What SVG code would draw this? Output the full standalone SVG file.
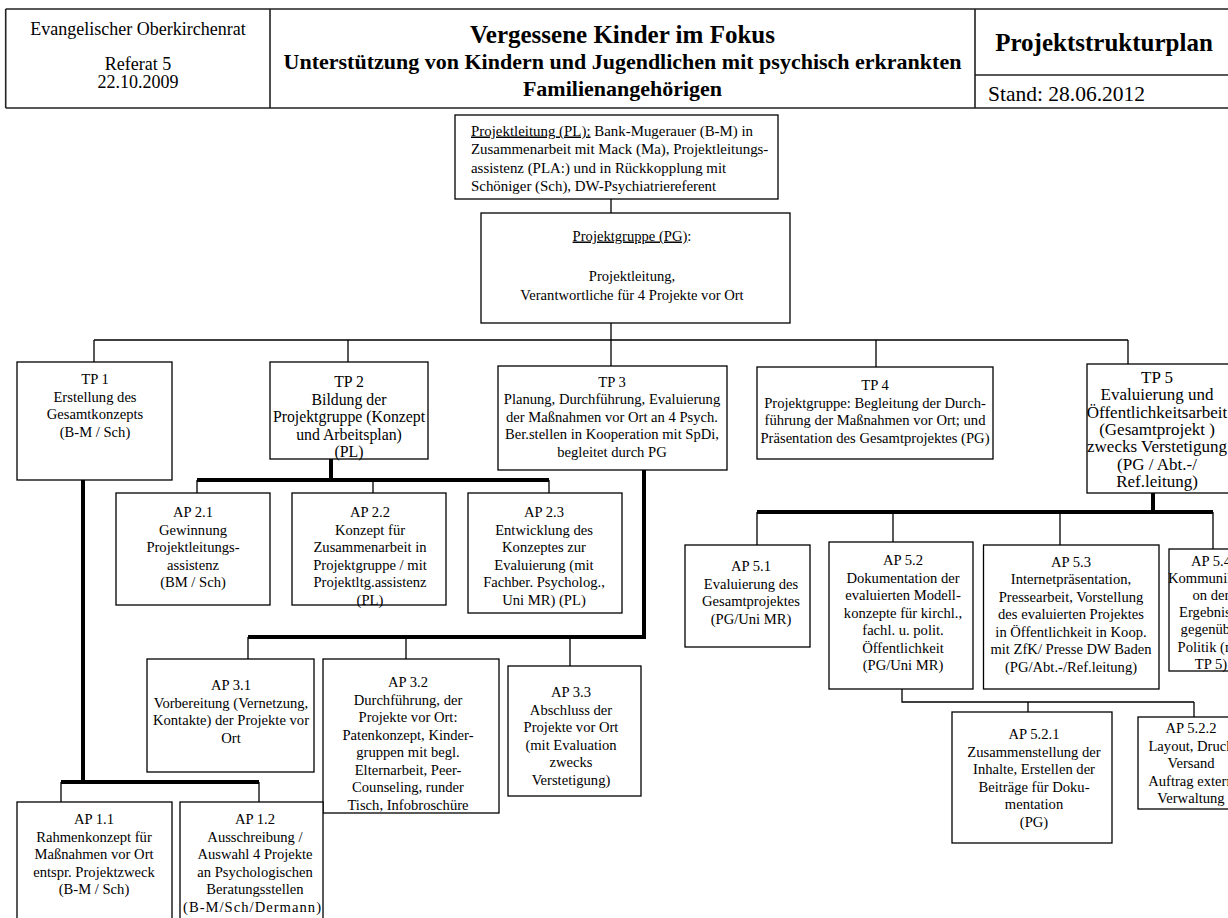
<svg xmlns="http://www.w3.org/2000/svg" width="1228" height="918" viewBox="0 0 1228 918">
<style>
.bg{fill:#fff}
.hb{fill:none;stroke:#222;stroke-width:1.6}
.box{fill:#fff;stroke:#000;stroke-width:1.3}
.t{font-family:"Liberation Serif","Times New Roman",serif;font-size:14.6px;fill:#000;text-anchor:middle}
.tl{font-family:"Liberation Serif","Times New Roman",serif;font-size:14.9px;fill:#000}
.hl{font-family:"Liberation Serif","Times New Roman",serif;font-size:18px;fill:#000;text-anchor:middle}
.hb1{font-family:"Liberation Serif","Times New Roman",serif;font-size:25px;font-weight:bold;fill:#000;text-anchor:middle}
.hb2{font-family:"Liberation Serif","Times New Roman",serif;font-size:22px;font-weight:bold;fill:#000;text-anchor:middle}
.hs{font-family:"Liberation Serif","Times New Roman",serif;font-size:21.5px;fill:#000}
.thin{fill:none;stroke:#000;stroke-width:1.3}
.thick{fill:none;stroke:#000;stroke-width:4}
</style>
<rect class="bg" x="0" y="0" width="1228" height="918"/>

<g id="header">
<path class="hb" d="M5.7,9 H1240 M5.7,108 H1240 M5.7,9 V108 M270,9 V108 M975,9 V108 M975,75 H1240"/>
<text class="hl" x="138" y="35">Evangelischer Oberkirchenrat</text>
<text class="hl" x="138" y="70">Referat 5</text>
<text class="hl" x="138" y="88">22.10.2009</text>
<text class="hb1" x="622.5" y="42.5">Vergessene Kinder im Fokus</text>
<text class="hb2" x="622.5" y="69">Unterstützung von Kindern und Jugendlichen mit psychisch erkrankten</text>
<text class="hb2" x="622.5" y="96">Familienangehörigen</text>
<text class="hb1" x="1104" y="51">Projektstrukturplan</text>
<text class="hs" x="988" y="101">Stand: 28.06.2012</text>
</g>

<g id="connectors">
<path class="thin" d="M611,199 V213 M611,323 V340 M94,340 H1128 M94,340 V362 M348,340 V362 M611,340 V366 M876,340 V367 M1128,340 V364"/>
<path class="thick" d="M83,480 V782 M61,782 H259 M331,459 V480 M197,480 H549 M644,470 V637 H248 M1153,493 V512 M757,512 H1213"/>
<path class="thin" d="M61,782 V802 M259,782 V802 M197,480 V493 M373,480 V493 M549,480 V493 M248,637 V659 M406,637 V659 M570,637 V666 M757,512 V545 M893,512 V542 M1060,512 V545 M1213,512 V549 M902,689 V702 H1194 M1028,702 V712 M1194,702 V717"/>
</g>

<g id="pl">
<rect class="box" x="455" y="115" width="323" height="84"/>
<text class="tl" x="471" y="135.5"><tspan text-decoration="underline">Projektleitung (PL):</tspan> Bank-Mugerauer (B-M) in</text>
<text class="tl" x="471" y="154">Zusammenarbeit mit Mack (Ma), Projektleitungs-</text>
<text class="tl" x="471" y="172.5">assistenz (PLA:) und in Rückkopplung mit</text>
<text class="tl" x="471" y="191">Schöniger (Sch), DW-Psychiatriereferent</text>
</g>

<g id="pg">
<rect class="box" x="481" y="213" width="309" height="110"/>
<text class="t" x="632" y="240.5"><tspan text-decoration="underline">Projektgruppe (PG)</tspan>:</text>
<text class="t" x="632" y="281">Projektleitung,</text>
<text class="t" x="632" y="300">Verantwortliche für 4 Projekte vor Ort</text>
</g>

<g id="tp1">
<rect class="box" x="17" y="362" width="155" height="118"/>
<text class="t" x="95" y="384">TP 1</text>
<text class="t" x="95" y="401.5">Erstellung des</text>
<text class="t" x="95" y="419">Gesamtkonzepts</text>
<text class="t" x="95" y="436.5">(B-M / Sch)</text>
</g>

<g id="tp2">
<rect class="box" x="270" y="362" width="158" height="97"/>
<text class="t" style="font-size:15.8px" x="349" y="387">TP 2</text>
<text class="t" style="font-size:15.8px" x="349" y="404.5">Bildung der</text>
<text class="t" style="font-size:15.8px" x="349" y="422">Projektgruppe (Konzept</text>
<text class="t" style="font-size:15.8px" x="349" y="439.5">und Arbeitsplan)</text>
<text class="t" style="font-size:15.8px" x="349" y="457">(PL)</text>
</g>

<g id="tp3">
<rect class="box" x="498" y="366" width="229" height="104"/>
<text class="t" x="612" y="386.5">TP 3</text>
<text class="t" x="612" y="404">Planung, Durchführung, Evaluierung</text>
<text class="t" x="612" y="421.5">der Maßnahmen vor Ort an 4 Psych.</text>
<text class="t" x="612" y="439">Ber.stellen in Kooperation mit SpDi,</text>
<text class="t" x="612" y="456.5">begleitet durch PG</text>
</g>

<g id="tp4">
<rect class="box" x="757" y="367" width="236" height="92"/>
<text class="t" x="875" y="390">TP 4</text>
<text class="t" x="875" y="407.5">Projektgruppe: Begleitung der Durch-</text>
<text class="t" x="875" y="425">führung der Maßnahmen vor Ort; und</text>
<text class="t" x="875" y="442.5">Präsentation des Gesamtprojektes (PG)</text>
</g>

<g id="tp5">
<rect class="box" x="1087" y="364" width="150" height="129"/>
<text class="t" style="font-size:17px" x="1157" y="383">TP 5</text>
<text class="t" style="font-size:17px" x="1157" y="400.3">Evaluierung und</text>
<text class="t" style="font-size:17px" x="1157" y="417.6">Öffentlichkeitsarbeit</text>
<text class="t" style="font-size:17px" x="1157" y="434.9">(Gesamtprojekt )</text>
<text class="t" style="font-size:17px" x="1157" y="452.2">zwecks Verstetigung</text>
<text class="t" style="font-size:17px" x="1157" y="469.5">(PG / Abt.-/</text>
<text class="t" style="font-size:17px" x="1157" y="486.8">Ref.leitung)</text>
</g>

<g id="ap21">
<rect class="box" x="116" y="493" width="154" height="112"/>
<text class="t" x="193" y="517">AP 2.1</text>
<text class="t" x="193" y="534.5">Gewinnung</text>
<text class="t" x="193" y="552">Projektleitungs-</text>
<text class="t" x="193" y="569.5">assistenz</text>
<text class="t" x="193" y="587">(BM / Sch)</text>
</g>

<g id="ap22">
<rect class="box" x="292" y="493" width="154" height="112"/>
<text class="t" x="370" y="517">AP 2.2</text>
<text class="t" x="370" y="534.5">Konzept für</text>
<text class="t" x="370" y="552">Zusammenarbeit in</text>
<text class="t" x="370" y="569.5">Projektgruppe / mit</text>
<text class="t" x="370" y="587">Projektltg.assistenz</text>
<text class="t" x="370" y="604.5">(PL)</text>
</g>

<g id="ap23">
<rect class="box" x="468" y="493" width="154" height="120"/>
<text class="t" x="544" y="517">AP 2.3</text>
<text class="t" x="544" y="534.5">Entwicklung des</text>
<text class="t" x="544" y="552">Konzeptes zur</text>
<text class="t" x="544" y="569.5">Evaluierung (mit</text>
<text class="t" x="544" y="587">Fachber. Psycholog.,</text>
<text class="t" x="544" y="604.5">Uni MR) (PL)</text>
</g>

<g id="ap31">
<rect class="box" x="147" y="659" width="167" height="113"/>
<text class="t" x="231" y="690">AP 3.1</text>
<text class="t" x="231" y="707.5">Vorbereitung (Vernetzung,</text>
<text class="t" x="231" y="725">Kontakte) der Projekte vor</text>
<text class="t" x="231" y="742.5">Ort</text>
</g>

<g id="ap32">
<rect class="box" x="323" y="659" width="176" height="154"/>
<text class="t" x="408" y="687">AP 3.2</text>
<text class="t" x="408" y="704.5">Durchführung, der</text>
<text class="t" x="408" y="722">Projekte vor Ort:</text>
<text class="t" x="408" y="739.5">Patenkonzept, Kinder-</text>
<text class="t" x="408" y="757">gruppen mit begl.</text>
<text class="t" x="408" y="774.5">Elternarbeit, Peer-</text>
<text class="t" x="408" y="792">Counseling, runder</text>
<text class="t" x="408" y="809.5">Tisch, Infobroschüre</text>
</g>

<g id="ap33">
<rect class="box" x="508" y="666" width="133" height="130"/>
<text class="t" x="571" y="697">AP 3.3</text>
<text class="t" x="571" y="714.5">Abschluss der</text>
<text class="t" x="571" y="732">Projekte vor Ort</text>
<text class="t" x="571" y="749.5">(mit Evaluation</text>
<text class="t" x="571" y="767">zwecks</text>
<text class="t" x="571" y="784.5">Verstetigung)</text>
</g>

<g id="ap11">
<rect class="box" x="17" y="802" width="155" height="125"/>
<text class="t" x="94" y="824">AP 1.1</text>
<text class="t" x="94" y="841.5">Rahmenkonzept für</text>
<text class="t" x="94" y="859">Maßnahmen vor Ort</text>
<text class="t" x="94" y="876.5">entspr. Projektzweck</text>
<text class="t" x="94" y="894">(B-M / Sch)</text>
</g>

<g id="ap12">
<rect class="box" x="180" y="802" width="143" height="125"/>
<text class="t" x="255" y="824">AP 1.2</text>
<text class="t" x="255" y="841.5">Ausschreibung /</text>
<text class="t" x="255" y="859">Auswahl 4 Projekte</text>
<text class="t" x="255" y="876.5">an Psychologischen</text>
<text class="t" x="255" y="894">Beratungsstellen</text>
<text class="t" x="252" y="911.5" textLength="138" lengthAdjust="spacing">(B-M/Sch/Dermann)</text>
</g>

<g id="ap51">
<rect class="box" x="685" y="545" width="125" height="102"/>
<text class="t" x="751" y="571">AP 5.1</text>
<text class="t" x="751" y="588.5">Evaluierung des</text>
<text class="t" x="751" y="606">Gesamtprojektes</text>
<text class="t" x="751" y="623.5">(PG/Uni MR)</text>
</g>

<g id="ap52">
<rect class="box" x="829" y="542" width="144" height="147"/>
<text class="t" x="903" y="565">AP 5.2</text>
<text class="t" x="903" y="582.5">Dokumentation der</text>
<text class="t" x="903" y="600">evaluierten Modell-</text>
<text class="t" x="903" y="617.5">konzepte für kirchl.,</text>
<text class="t" x="903" y="635">fachl. u. polit.</text>
<text class="t" x="903" y="652.5">Öffentlichkeit</text>
<text class="t" x="903" y="670">(PG/Uni MR)</text>
</g>

<g id="ap53">
<rect class="box" x="983.5" y="545" width="175.5" height="144"/>
<text class="t" x="1071" y="566.5">AP 5.3</text>
<text class="t" x="1071" y="584">Internetpräsentation,</text>
<text class="t" x="1071" y="601.5">Pressearbeit, Vorstellung</text>
<text class="t" x="1071" y="619">des evaluierten Projektes</text>
<text class="t" x="1071" y="636.5">in Öffentlichkeit in Koop.</text>
<text class="t" x="1071" y="654">mit ZfK/ Presse DW Baden</text>
<text class="t" x="1071" y="671.5">(PG/Abt.-/Ref.leitung)</text>
</g>

<g id="ap54">
<rect class="box" x="1169" y="549" width="86" height="122"/>
<text class="t" x="1211" y="565.5">AP 5.4</text>
<text class="t" x="1211" y="582.7">Kommunikati-</text>
<text class="t" x="1211" y="599.9">on der</text>
<text class="t" x="1211" y="617.1">Ergebnisse</text>
<text class="t" x="1211" y="634.3">gegenüber</text>
<text class="t" x="1211" y="651.5">Politik (mit</text>
<text class="t" x="1211" y="668.7">TP 5)</text>
</g>

<g id="ap521">
<rect class="box" x="952" y="712" width="160" height="131"/>
<text class="t" x="1034" y="739">AP 5.2.1</text>
<text class="t" x="1034" y="756.5">Zusammenstellung der</text>
<text class="t" x="1034" y="774">Inhalte, Erstellen der</text>
<text class="t" x="1034" y="791.5">Beiträge für Doku-</text>
<text class="t" x="1034" y="809">mentation</text>
<text class="t" x="1034" y="826.5">(PG)</text>
</g>

<g id="ap522">
<rect class="box" x="1138" y="717" width="107" height="92"/>
<text class="t" x="1191" y="733">AP 5.2.2</text>
<text class="t" x="1191" y="750.5">Layout, Druck</text>
<text class="t" x="1191" y="768">Versand</text>
<text class="t" x="1191" y="785.5">Auftrag extern</text>
<text class="t" x="1191" y="803">Verwaltung</text>
</g>
</svg>
